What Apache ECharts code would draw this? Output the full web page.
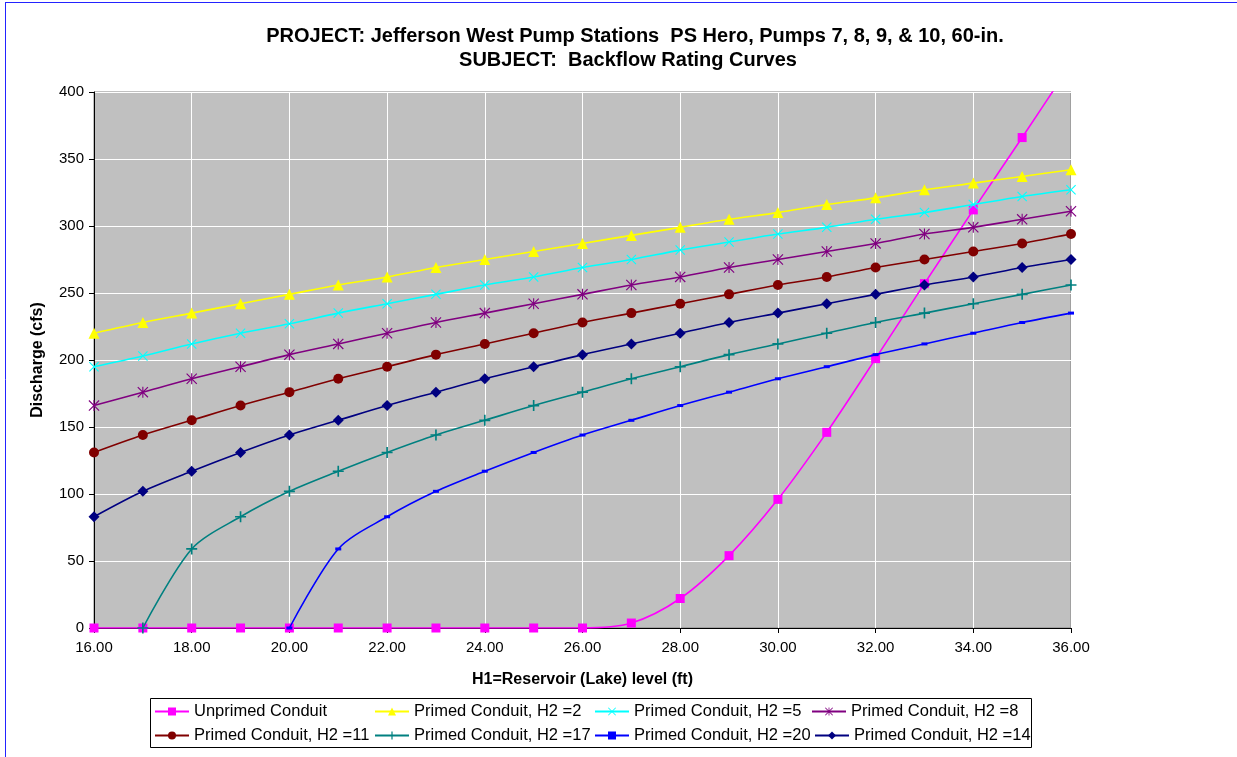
<!DOCTYPE html>
<html>
<head>
<meta charset="utf-8">
<script src="https://cdn.jsdelivr.net/npm/echarts@6/dist/echarts.min.js"></script>
<style>
html,body{margin:0;padding:0;background:#fff;}
#chart{width:1237px;height:757px;}
</style>
</head>
<body>
<div id="chart"></div>
<script>
// ---- data ----
var levels = [16,17,18,19,20,21,22,23,24,25,26,27,28,29,30,31,32,33,34,35,36];
var unprimed = [0,0,0,0,0,0,0,0,0,0,0,3.7,22,54,96,146,201,257,312,366,421];
var primedH2_2  = [220,228,235,242,249,256,262,269,275,281,287,293,299,305,310,316,321,327,332,337,342];
var primedH2_5  = [195,203,212,220,227,235,242,249,256,262,269,275,282,288,294,299,305,310,316,322,327];
var primedH2_8  = [166,176,186,195,204,212,220,228,235,242,249,256,262,269,275,281,287,294,299,305,311];
var primedH2_11 = [131,144,155,166,176,186,195,204,212,220,228,235,242,249,256,262,269,275,281,287,294];
var primedH2_17 = [null,0,59,83,102,117,131,144,155,166,176,186,195,204,212,220,228,235,242,249,256];
var primedH2_20 = [null,null,null,null,0,59,83,102,117,131,144,155,166,176,186,195,204,212,220,228,235];
var primedH2_14 = [83,102,117,131,144,155,166,176,186,195,204,212,220,228,235,242,249,256,262,269,275];
var seriesNames = ['Unprimed Conduit','Primed Conduit, H2 =2','Primed Conduit, H2 =5','Primed Conduit, H2 =8',
                   'Primed Conduit, H2 =11','Primed Conduit, H2 =17','Primed Conduit, H2 =20','Primed Conduit, H2 =14'];
var titleLine1 = 'PROJECT: Jefferson West Pump Stations  PS Hero, Pumps 7, 8, 9, & 10, 60-in.';
var titleLine2 = 'SUBJECT:  Backflow Rating Curves';
var xAxisTitle = 'H1=Reservoir (Lake) level (ft)';
var yAxisTitle = 'Discharge (cfs)';

// ---- styling ----
var FONT = 'Arial, "Liberation Sans", sans-serif';
var PLUS = 'path://M8.5,0H11.5V8.5H20V11.5H11.5V20H8.5V11.5H0V8.5H8.5Z';
var XMARK = 'path://M0,1.5L1.5,0L20,18.5L18.5,20ZM18.5,0L20,1.5L1.5,20L0,18.5Z';
var STAR = 'path://M0,1.5L1.5,0L20,18.5L18.5,20ZM18.5,0L20,1.5L1.5,20L0,18.5ZM9,0H11V20H9Z';

function pairs(arr){
  var out=[];
  for(var i=0;i<levels.length;i++){ if(arr[i]!==null) out.push([levels[i],arr[i]]); }
  return out;
}
var specs = [
  {data:unprimed,   color:'#FF00FF', symbol:'rect',     size:9},
  {data:primedH2_2, color:'#FFFF00', symbol:'triangle', size:11},
  {data:primedH2_5, color:'#00FFFF', symbol:XMARK,      size:10},
  {data:primedH2_8, color:'#800080', symbol:STAR,       size:11},
  {data:primedH2_11,color:'#800000', symbol:'circle',   size:10},
  {data:primedH2_17,color:'#008080', symbol:PLUS,       size:11},
  {data:primedH2_20,color:'#0000FF', symbol:'rect',     size:[6,3]},
  {data:primedH2_14,color:'#000080', symbol:'diamond',  size:11}
];
var series = specs.map(function(s,i){
  return {
    name: seriesNames[i], type:'line', data: pairs(s.data),
    smooth: 0.3, symbol: s.symbol, symbolSize: s.size, showAllSymbol:true,
    lineStyle:{color:s.color,width:1.6}, itemStyle:{color:s.color},
    emphasis:{disabled:true}, clip:true, z: 2+i
  };
});
// legend positions (text start x, row)
var legendPos = [[193,0],[413,0],[633,0],[850,0],[193,1],[413,1],[633,1],[853,1]];
var legends = seriesNames.map(function(n,i){
  return {
    data:[n], left: legendPos[i][0]-39, top: legendPos[i][1]===0 ? 703 : 727,
    padding:0, itemWidth:34, itemHeight:10, itemGap:0, selectedMode:false,
    textStyle:{fontFamily:FONT,fontSize:16.5,color:'#000'}
  };
});

var chart = echarts.init(document.getElementById('chart'), null, {renderer:'canvas'});
chart.setOption({
  animation:false,
  backgroundColor:'#fff',
  title:[
    {text:titleLine1, left:630, top:21, textAlign:'center', textStyle:{fontFamily:FONT,fontSize:20,fontWeight:'bold',color:'#000'}},
    {text:titleLine2, left:623, top:45, textAlign:'center', textStyle:{fontFamily:FONT,fontSize:20,fontWeight:'bold',color:'#000'}}
  ],
  graphic:[
    {type:'line', shape:{x1:5,y1:2.5,x2:1237,y2:2.5}, style:{stroke:'#2323FF',lineWidth:1}, z:-1},
    {type:'line', shape:{x1:5.5,y1:2,x2:5.5,y2:757}, style:{stroke:'#2323FF',lineWidth:1}, z:-1},
    {type:'rect', shape:{x:150.5,y:698.5,width:881,height:49}, style:{fill:'#fff',stroke:'#000',lineWidth:1}, z:-1}
  ],
  legend: legends,
  grid:{left:94, right:166, top:92, bottom:129, show:true, backgroundColor:'#C0C0C0', borderColor:'#808080', borderWidth:1},
  xAxis:{
    type:'value', min:16, max:36, interval:2,
    name:xAxisTitle, nameLocation:'middle', nameGap:44,
    nameTextStyle:{fontFamily:FONT,fontSize:16,fontWeight:'bold',color:'#000'},
    axisLine:{show:true,onZero:false,lineStyle:{color:'#000',width:1}},
    axisTick:{show:true,inside:false,length:5,lineStyle:{color:'#000'}},
    axisLabel:{fontFamily:FONT,fontSize:15,color:'#000',margin:12,formatter:function(v){return v.toFixed(2);}},
    splitLine:{show:true,lineStyle:{color:'#fff',width:1}}
  },
  yAxis:{
    type:'value', min:0, max:400, interval:50,
    name:yAxisTitle, nameLocation:'middle', nameGap:48,
    nameTextStyle:{fontFamily:FONT,fontSize:16,fontWeight:'bold',color:'#000'},
    axisLine:{show:true,lineStyle:{color:'#000',width:1}},
    axisTick:{show:true,inside:false,length:5,lineStyle:{color:'#000'}},
    axisLabel:{fontFamily:FONT,fontSize:15,color:'#000',margin:10},
    splitLine:{show:true,lineStyle:{color:'#fff',width:1}}
  },
  series: series
});
</script>
</body>
</html>
